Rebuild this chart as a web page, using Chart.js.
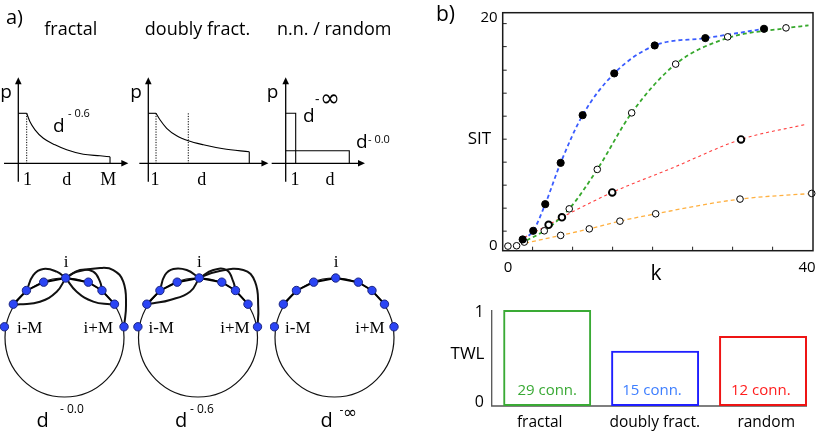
<!DOCTYPE html>
<html><head><meta charset="utf-8">
<script src="https://cdn.jsdelivr.net/npm/chart.js@4.4.1/dist/chart.umd.min.js"></script>
<style>
html,body{margin:0;padding:0;background:#fff;}
body{width:817px;height:433px;position:relative;overflow:hidden;}
</style></head><body>
<script>
// ---------------- DATA ----------------
// Panel b) SIT vs k
const blueK    = [1.97, 3.38, 4.99, 7.05, 9.99, 14.22, 19.63, 26.4, 34.25];
const blueSIT  = [0.58, 1.33, 3.65, 7.24, 11.39, 15.02, 17.45, 18.09, 18.9];
const greenK   = [0, 1.16, 2.18, 4.86, 8.2, 11.95, 16.55, 22.43, 29.39, 37.19];
const greenSIT = [0, 0.03, 0.35, 1.33, 3.24, 6.67, 11.59, 15.83, 18.2, 18.98];
const greenFitK   = [2.5, 4.86, 8.2, 11.95, 16.55, 22.43, 29.39, 37.19, 40.2];
const greenFitSIT = [0.5, 1.33, 3.24, 6.67, 11.59, 15.83, 18.1, 18.95, 19.2];
const redK     = [5.44, 7.22, 13.95, 31.17];
const redSIT   = [1.85, 2.5, 4.67, 9.28];
const redFitK   = [2.2, 5.44, 7.22, 13.95, 22, 31.17, 39.9];
const redFitSIT = [0.75, 1.85, 2.5, 4.67, 6.8, 9.28, 10.6];
const orangeK   = [7.05, 10.88, 14.98, 19.76, 31.04, 40.63];
const orangeSIT = [0.93, 1.5, 2.17, 2.81, 4.09, 4.58];
const orangeFitK   = [2.3, 7.05, 10.88, 14.98, 19.76, 31.04, 40.63];
const orangeFitSIT = [0.26, 0.93, 1.5, 2.17, 2.81, 4.09, 4.58];
const sitTickLabels = [0, 20];
const kTickLabels   = [0, 40];
const sitMinorTicks = [1.3, 3.3, 5.3, 7.3, 9.3, 11.3, 13.3, 15.3, 17.35, 19.35];
const kMinorTicks   = [3.3, 8.65, 14.0, 19.35, 24.7, 30.05, 35.4];

// Panel b) TWL bars
const twlCategories = ['fractal', 'doubly fract.', 'random'];
const twlValues     = [1.0, 0.576, 0.73];
const twlConn       = ['29 conn.', '15 conn.', '12 conn.'];
const twlTickLabels = [0, 1];

// Panel a) p(d) schematics
const fracFlatD = [0, 1.0], fracFlatP = [1, 1];
const fracCurveD = [1.0, 1.39, 1.99, 2.98, 4.37, 5.76, 7.74, 9.73, 10.92];
const fracCurveP = [1.0, 0.83, 0.67, 0.5, 0.37, 0.27, 0.18, 0.15, 0.13];
const fracDropD = [10.92, 10.92], fracDropP = [0.13, 0];
const fracMarkD = [1.0];
const dblFlatD = [0, 0.92], dblFlatP = [1, 1];
const dblCurveD = [0.92, 1.39, 2.19, 3.38, 4.76, 6.55, 8.93, 12.02];
const dblCurveP = [1.0, 0.87, 0.7, 0.55, 0.45, 0.37, 0.29, 0.23];
const dblDropD = [12.02, 12.02], dblDropP = [0.23, 0];
const dblMarkD = [0.92, 4.76];
const nnD = [0, 1.19, 1.19], nnP = [1, 1, 0];
const rndD = [0, 7.57, 7.57], rndP = [0.25, 0.25, 0];

// Panel a) ring networks (units of ring radius, centre = 0,0)
const ringNodeU = [-1.01, -0.86, -0.64, -0.35, 0.02, 0.40, 0.63, 0.84, 1.0];
const ringNodeV = [0.18, 0.56, 0.79, 0.93, 1.0, 0.93, 0.79, 0.56, 0.18];
const ring1Links = [
  [[-0.635,0.787],[-0.524,1.05],[-0.356,1.151],[-0.131,1.106],[0.02,1.0]],
  [[0.02,1.0],[0.26,1.134],[0.484,1.106],[0.597,0.938],[0.63,0.79]],
  [[0.02,1.0],[0.205,1.106],[0.597,1.168],[0.82,1.134],[0.988,0.938],[1.034,0.546],[1.0,0.18]],
  [[0.02,1.0],[-0.131,0.77],[-0.412,0.602],[-0.748,0.558],[-0.86,0.56]],
  [[0.02,1.0],[0.205,0.77],[0.484,0.602],[0.765,0.558],[0.84,0.56]]
];
const ring2Links = [
  [[-0.64,0.79],[-0.555,1.05],[-0.415,1.151],[-0.19,1.134],[0.02,1.0]],
  [[0.02,1.0],[0.257,1.134],[0.482,1.134],[0.593,0.938],[0.63,0.79]],
  [[0.02,1.0],[0.314,1.106],[0.761,1.134],[0.958,0.938],[1.013,0.496],[1.0,0.18]],
  [[0.02,1.0],[-0.134,0.77],[-0.47,0.63],[-0.751,0.575],[-0.86,0.56]]
];
const ring3Links = [];

// ---------------- HELPERS ----------------
const SANS = '"Open Sans", "Liberation Sans", sans-serif';
const SERIF = '"Liberation Serif", "DejaVu Serif", serif';
Chart.defaults.font.family = SANS;
const pt = (xs, ys) => xs.map((x, i) => ({x: x, y: ys[i]}));

function makeCanvas(left, top, w, h) {
  const c = document.createElement('canvas');
  c.width = w; c.height = h;
  c.style.cssText = 'position:absolute;left:' + left + 'px;top:' + top + 'px;width:' + w + 'px;height:' + h + 'px;';
  document.body.appendChild(c);
  return c;
}
function chartAt(cl, ct, w, h, area, config) {
  const c = makeCanvas(cl, ct, w, h);
  const o = config.options = config.options || {};
  o.layout = {autoPadding: false, padding: {left: area[0] - cl, top: area[1] - ct, right: cl + w - area[2], bottom: ct + h - area[3]}};
  o.responsive = false; o.maintainAspectRatio = false; o.animation = false; o.events = [];
  o.plugins = Object.assign({legend: {display: false}, tooltip: {enabled: false}}, o.plugins || {});
  return new Chart(c, config);
}
function drawText(ctx, cl, ct, it) {
  ctx.save();
  ctx.font = it.f; ctx.fillStyle = it.c || '#000';
  ctx.textAlign = it.a || 'center'; ctx.textBaseline = 'alphabetic';
  ctx.fillText(it.t, it.x - cl, it.y - ct);
  ctx.restore();
}
function lineDs(data, extra) {
  return Object.assign({data: data, showLine: true, pointRadius: 0, pointHoverRadius: 0,
    borderColor: '#000', borderWidth: 1.1, tension: 0, clip: false, order: 1}, extra || {});
}

// ---------------- PANEL b) SIT vs k ----------------
(function () {
  const cl = 410, ct = 0, w = 407, h = 290;
  const deco = {
    id: 'sitDeco',
    afterDraw(chart) {
      const ctx = chart.ctx, a = chart.chartArea, xs = chart.scales.x, ys = chart.scales.y;
      ctx.save();
      ctx.strokeStyle = '#222'; ctx.lineWidth = 1;
      sitMinorTicks.forEach(v => { const y = ys.getPixelForValue(v); ctx.beginPath(); ctx.moveTo(a.left, y); ctx.lineTo(a.left + 4, y); ctx.stroke(); });
      kMinorTicks.forEach(v => { const x = xs.getPixelForValue(v); ctx.beginPath(); ctx.moveTo(x, a.bottom); ctx.lineTo(x, a.bottom - 4); ctx.stroke(); });
      ctx.lineWidth = 1.5; ctx.strokeStyle = '#1a1a1a';
      ctx.strokeRect(a.left, a.top, a.right - a.left, a.bottom - a.top);
      ctx.restore();
      sitTickLabels.forEach(v => drawText(ctx, 0, 0, {t: String(v), x: a.left - 5, y: ys.getPixelForValue(v) + (v === 0 ? 3.5 : 6), f: '15px ' + SANS, a: 'right'}));
      kTickLabels.forEach(v => drawText(ctx, 0, 0, {t: String(v), x: xs.getPixelForValue(v), y: a.bottom + 21, f: '15px ' + SANS}));
      drawText(ctx, cl, ct, {t: 'SIT', x: 479.5, y: 144, f: '17px ' + SANS});
      drawText(ctx, cl, ct, {t: 'k', x: 656, y: 280, f: '21px ' + SANS});
      drawText(ctx, cl, ct, {t: 'b)', x: 436, y: 21, f: '21px ' + SANS, a: 'left'});
    }
  };
  const openPt = {showLine: false, pointRadius: 3.3, pointBackgroundColor: '#fff', pointBorderColor: '#000', pointBorderWidth: 1, clip: false, order: 0};
  chartAt(cl, ct, w, h, [502.7, 12.7, 813, 250.7], {
    type: 'scatter',
    data: {datasets: [
      {data: pt(blueK, blueSIT), showLine: false, pointRadius: 3.6, pointBackgroundColor: '#000', pointBorderColor: '#000', pointBorderWidth: 1, clip: false, order: 0},
      Object.assign({data: pt(greenK, greenSIT)}, openPt),
      Object.assign({data: pt(redK, redSIT)}, openPt, {pointBorderWidth: 1.9}),
      Object.assign({data: pt(orangeK, orangeSIT)}, openPt),
      lineDs(pt(blueK, blueSIT), {borderColor: '#3a5cff', borderWidth: 1.8, borderDash: [4, 3], cubicInterpolationMode: 'monotone'}),
      lineDs(pt(greenFitK, greenFitSIT), {borderColor: '#36a82c', borderWidth: 1.8, borderDash: [4, 3], cubicInterpolationMode: 'monotone'}),
      lineDs(pt(redFitK, redFitSIT), {borderColor: '#ff4040', borderWidth: 1.1, borderDash: [3, 3], cubicInterpolationMode: 'monotone'}),
      lineDs(pt(orangeFitK, orangeFitSIT), {borderColor: '#ffb040', borderWidth: 1.3, borderDash: [4, 3], cubicInterpolationMode: 'monotone'})
    ]},
    options: {scales: {
      x: {type: 'linear', min: -0.7, max: 40.8, display: false},
      y: {type: 'linear', min: -0.4, max: 20.3, display: false}
    }},
    plugins: [deco]
  });
})();

// ---------------- PANEL b) TWL bars ----------------
(function () {
  const cl = 410, ct = 290, w = 407, h = 143;
  const connColors = ['#3aa935', '#3d7eff', '#ff1d1d'];
  const labelX = [539.7, 654.8, 766.2];
  const connX = [547.2, 652, 760.8];
  const deco = {
    id: 'twlDeco',
    beforeDatasetsDraw(chart) {
      const ctx = chart.ctx, ys = chart.scales.y;
      ctx.save(); ctx.strokeStyle = '#555'; ctx.lineWidth = 1.3;
      ctx.beginPath();
      ctx.moveTo(491.7 - cl, ys.getPixelForValue(1)); ctx.lineTo(491.7 - cl, ys.getPixelForValue(0));
      ctx.lineTo(807 - cl, ys.getPixelForValue(0)); ctx.stroke();
      ctx.restore();
    },
    afterDraw(chart) {
      const ctx = chart.ctx, ys = chart.scales.y;
      twlTickLabels.forEach(v => drawText(ctx, 0, 0, {t: String(v), x: 484 - cl, y: ys.getPixelForValue(v) + (v === 1 ? 6.5 : 0.5), f: '16px ' + SANS, a: 'right'}));
      drawText(ctx, cl, ct, {t: 'TWL', x: 467.5, y: 359.3, f: '17px ' + SANS});
      twlCategories.forEach((s, i) => drawText(ctx, cl, ct, {t: s, x: labelX[i], y: 426.5, f: '15.5px ' + SANS}));
      twlConn.forEach((s, i) => drawText(ctx, cl, ct, {t: s, x: connX[i], y: 395, f: '15px ' + SANS, c: connColors[i]}));
    }
  };
  chartAt(cl, ct, w, h, [493.2, 310, 817, 406], {
    type: 'bar',
    data: {labels: twlCategories, datasets: [{
      data: twlValues, backgroundColor: 'rgba(255,255,255,0)',
      borderColor: ['#3aaa35', '#1f1fff', '#ee1414'], borderWidth: 2, borderSkipped: false,
      barPercentage: 0.815, categoryPercentage: 1
    }]},
    options: {scales: {
      x: {type: 'category', display: false},
      y: {type: 'linear', min: 0, max: 1, display: false}
    }},
    plugins: [deco]
  });
})();

// ---------------- PANEL a) p(d) schematics ----------------
function pPlot(cl, axisX, axisStart, axisEnd, datasets, dotted, texts) {
  const w = 150, h = 195, ct = 0;
  const deco = {
    id: 'pDeco',
    beforeDatasetsDraw(chart) {
      const ctx = chart.ctx, xs = chart.scales.x, ys = chart.scales.y;
      ctx.save();
      ctx.strokeStyle = '#000'; ctx.fillStyle = '#000'; ctx.lineWidth = 1.3;
      const x0 = xs.getPixelForValue(0), y0 = ys.getPixelForValue(0);
      const xa = xs.getPixelForValue(axisStart), xe = xs.getPixelForValue(axisEnd);
      const yb = ys.getPixelForValue(-0.37), yt = ys.getPixelForValue(1.72);
      ctx.beginPath(); ctx.moveTo(xa, y0); ctx.lineTo(xe - 5, y0); ctx.stroke();
      ctx.beginPath(); ctx.moveTo(xe, y0); ctx.lineTo(xe - 7, y0 - 3.3); ctx.lineTo(xe - 7, y0 + 3.3); ctx.closePath(); ctx.fill();
      ctx.beginPath(); ctx.moveTo(x0, yb); ctx.lineTo(x0, yt + 5); ctx.stroke();
      ctx.beginPath(); ctx.moveTo(x0, yt); ctx.lineTo(x0 - 3.3, yt + 7); ctx.lineTo(x0 + 3.3, yt + 7); ctx.closePath(); ctx.fill();
      ctx.lineWidth = 1; ctx.setLineDash([1.2, 1.4]);
      dotted.forEach(d => { const x = xs.getPixelForValue(d); ctx.beginPath(); ctx.moveTo(x, ys.getPixelForValue(1)); ctx.lineTo(x, y0); ctx.stroke(); });
      ctx.restore();
    },
    afterDraw(chart) { texts.forEach(it => drawText(chart.ctx, cl, ct, it)); }
  };
  const areaL = axisX - 2 * 8.4;
  chartAt(cl, ct, w, h, [areaL, 68.3, areaL + 17 * 8.4, 188.3], {
    type: 'scatter',
    data: {datasets: datasets},
    options: {scales: {
      x: {type: 'linear', min: -2, max: 15, display: false},
      y: {type: 'linear', min: -0.5, max: 1.9, display: false}
    }},
    plugins: [deco]
  });
}
const big = '19px ' + SANS, sup = '11px ' + SANS, ser = '18px ' + SERIF, head = '18px ' + SANS;
pPlot(0, 18.3, -1.7, 13.1, [
  lineDs(pt(fracFlatD, fracFlatP)),
  lineDs(pt(fracCurveD, fracCurveP), {cubicInterpolationMode: 'monotone'}),
  lineDs(pt(fracDropD, fracDropP))
], fracMarkD, [
  {t: 'a)', x: 6, y: 23.5, f: '20px ' + SANS, a: 'left'},
  {t: 'fractal', x: 70.8, y: 35, f: head},
  {t: 'p', x: 6, y: 98.3, f: big},
  {t: 'd', x: 53, y: 132.3, f: big, a: 'left'},
  {t: '- 0.6', x: 68, y: 117, f: sup, a: 'left'},
  {t: '1', x: 27.5, y: 185, f: ser},
  {t: 'd', x: 66.7, y: 185, f: ser},
  {t: 'M', x: 108.3, y: 185, f: ser}
]);
pPlot(130, 148.3, -1.07, 14.3, [
  lineDs(pt(dblFlatD, dblFlatP)),
  lineDs(pt(dblCurveD, dblCurveP), {cubicInterpolationMode: 'monotone'}),
  lineDs(pt(dblDropD, dblDropP))
], dblMarkD, [
  {t: 'doubly fract.', x: 197.5, y: 35, f: head},
  {t: 'p', x: 136, y: 98.3, f: big},
  {t: '1', x: 155, y: 185, f: ser},
  {t: 'd', x: 201.7, y: 185, f: ser}
]);
pPlot(267, 285.7, -1.67, 9.44, [
  lineDs(pt(nnD, nnP)),
  lineDs(pt(rndD, rndP))
], [], [
  {t: 'n.n. / random', x: 334.2, y: 35, f: head},
  {t: 'p', x: 272.5, y: 98.3, f: big},
  {t: 'd', x: 303, y: 122, f: big, a: 'left'},
  {t: '-', x: 315, y: 104, f: '14px ' + SANS, a: 'left'},
  {t: '\u221E', x: 320, y: 106, f: '24px "DejaVu Sans", sans-serif', a: 'left'},
  {t: 'd', x: 356, y: 148.3, f: big, a: 'left'},
  {t: '- 0.0', x: 368, y: 142.7, f: sup, a: 'left'},
  {t: '1', x: 295, y: 185, f: ser},
  {t: 'd', x: 330, y: 185, f: ser}
]);

// ---------------- PANEL a) rings ----------------
function ring(cl, centerX, links, texts) {
  const w = 136, h = 183, ct = 250, R = 59.5, cy = 337.5;
  const nodes = pt(ringNodeU, ringNodeV);
  const chain = pt(ringNodeU.slice(1, 8), ringNodeV.slice(1, 8));
  const ds = [
    {data: nodes, showLine: false, pointRadius: 4.2, pointBackgroundColor: '#2b45f5', pointBorderColor: '#1b2580', pointBorderWidth: 1, clip: false, order: 0},
    {data: [{x: 0, y: 0}], showLine: false, pointRadius: R, pointBackgroundColor: 'rgba(0,0,0,0)', pointBorderColor: '#111', pointBorderWidth: 1.2, clip: false, order: 2},
    lineDs(chain, {borderWidth: 2})
  ];
  links.forEach(l => ds.push(lineDs(l.map(p => ({x: p[0], y: p[1]})), {borderWidth: 2, tension: 0.45, cubicInterpolationMode: 'default', borderColor: '#111'})));
  const deco = {id: 'ringDeco', afterDraw(chart) { texts.forEach(it => drawText(chart.ctx, cl, ct, it)); }};
  chartAt(cl, ct, w, h, [centerX - 1.08 * R, cy - 1.2 * R, centerX + 1.12 * R, cy + 1.1 * R], {
    type: 'scatter',
    data: {datasets: ds},
    options: {scales: {
      x: {type: 'linear', min: -1.08, max: 1.12, display: false},
      y: {type: 'linear', min: -1.1, max: 1.2, display: false}
    }},
    plugins: [deco]
  });
}
const rl = '17px ' + SERIF, cap = '20px ' + SANS, csup = '12px ' + SANS;
ring(0, 64.5, ring1Links, [
  {t: 'i', x: 66, y: 266.7, f: rl}, {t: 'i-M', x: 29.7, y: 332.7, f: rl}, {t: 'i+M', x: 98.3, y: 332.7, f: rl},
  {t: 'd', x: 36.5, y: 426.7, f: cap, a: 'left'}, {t: '- 0.0', x: 60, y: 413.3, f: csup, a: 'left'}
]);
ring(133, 198, ring2Links, [
  {t: 'i', x: 199.3, y: 266.7, f: rl}, {t: 'i-M', x: 161.2, y: 332.7, f: rl}, {t: 'i+M', x: 235, y: 332.7, f: rl},
  {t: 'd', x: 175, y: 426.7, f: cap, a: 'left'}, {t: '- 0.6', x: 190, y: 413.3, f: csup, a: 'left'}
]);
ring(270, 334.5, ring3Links, [
  {t: 'i', x: 336, y: 266.7, f: rl}, {t: 'i-M', x: 297.8, y: 332.7, f: rl}, {t: 'i+M', x: 370, y: 332.7, f: rl},
  {t: 'd', x: 320.5, y: 426.7, f: cap, a: 'left'},
  {t: '-', x: 339.5, y: 414, f: csup, a: 'left'},
  {t: '\u221E', x: 343, y: 418, f: '17px "DejaVu Sans", sans-serif', a: 'left'}
]);
</script>
</body></html>
